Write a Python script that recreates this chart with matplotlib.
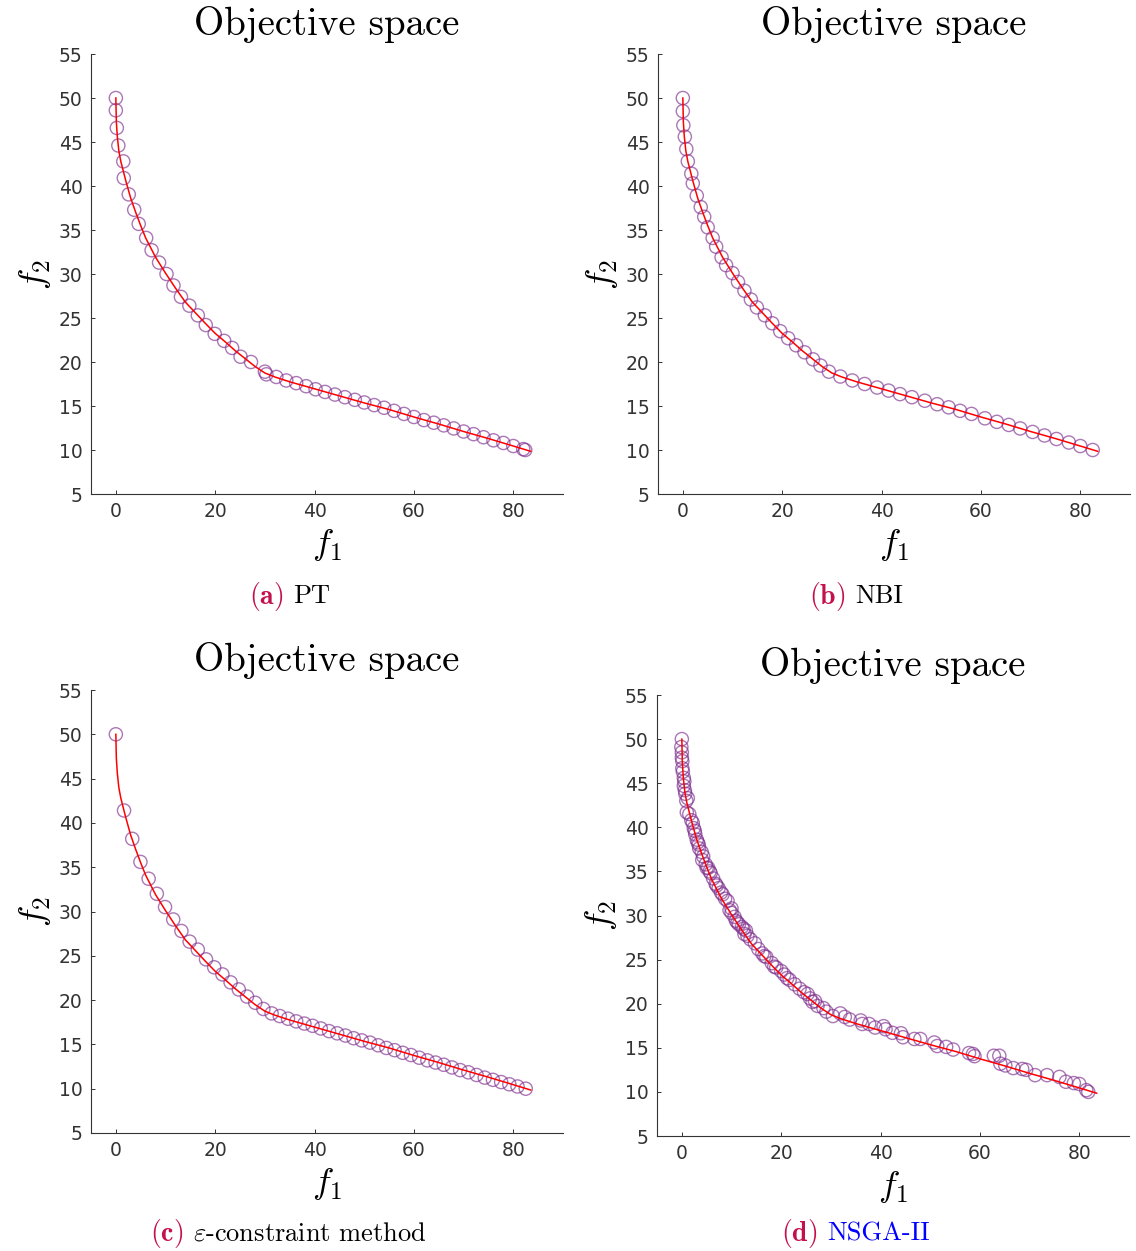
import matplotlib.pyplot as plt

plt.rcParams['mathtext.fontset'] = 'cm'

# Pareto front (reference curve)
front_f1 = [0, 0.1, 0.3, 0.6, 1.0, 1.5, 2.0, 3.0, 4.0, 5.0, 6.0, 8.0, 10.0, 12.0, 14.0,
            16.0, 18.0, 20.0, 22.0, 24.0, 26.0, 28.0, 30.0, 32.0, 35.0, 40.0, 45.0, 50.0,
            55.0, 60.0, 65.0, 70.0, 75.0, 80.0, 83.5]
front_f2 = [50.0, 47.3, 45.6, 44.0, 42.8, 41.7, 40.6, 38.6, 37.0, 35.5, 34.1, 31.9, 30.1,
            28.4, 26.8, 25.6, 24.4, 23.25, 22.3, 21.3, 20.4, 19.5, 18.75, 18.3, 17.75,
            16.95, 16.15, 15.35, 14.6, 13.75, 12.95, 12.1, 11.3, 10.45, 9.85]

# (a) PT
pt_f1 = [0, 0, 0.2, 0.5, 1.5, 1.6, 2.6, 3.7, 4.6, 6.1, 7.2, 8.7, 10.2, 11.6, 13.1, 14.8,
         16.5, 18.1, 19.9, 21.8, 23.4, 25.1, 27.2, 30.0, 30.3, 32.3, 34.3, 36.3, 38.3,
         40.2, 42.1, 44.1, 46.1, 48.1, 50.0, 52.0, 54.0, 56.0, 58.0, 60.0, 62.0, 64.0,
         66.0, 68.0, 70.0, 72.0, 74.0, 76.0, 78.0, 80.0, 82.0, 82.4]
pt_f2 = [50.0, 48.6, 46.6, 44.6, 42.8, 40.9, 39.05, 37.3, 35.7, 34.1, 32.7, 31.3, 30.0,
         28.7, 27.4, 26.4, 25.3, 24.2, 23.2, 22.4, 21.6, 20.6, 20.0, 18.9, 18.6, 18.3,
         17.9, 17.6, 17.25, 16.9, 16.6, 16.3, 16.0, 15.7, 15.4, 15.1, 14.8, 14.45, 14.1,
         13.75, 13.4, 13.1, 12.8, 12.45, 12.1, 11.8, 11.45, 11.1, 10.8, 10.45, 10.1, 10.0]

# (b) NBI
nbi_f1 = [0, 0, 0.1, 0.4, 0.7, 1.0, 1.7, 2.0, 2.8, 3.6, 4.3, 5.0, 6.0, 6.7, 7.8, 8.7, 10.0,
          11.1, 12.4, 13.7, 14.9, 16.5, 18.0, 19.6, 21.2, 22.8, 24.5, 26.2, 27.7, 29.4,
          31.7, 34.1, 36.6, 39.1, 41.4, 43.7, 46.1, 48.7, 51.2, 53.5, 55.8, 58.1, 60.8,
          63.2, 65.6, 67.9, 70.4, 72.8, 75.2, 77.7, 80.0, 82.5]
nbi_f2 = [50.0, 48.5, 46.9, 45.6, 44.2, 42.8, 41.4, 40.3, 38.9, 37.6, 36.5, 35.3, 34.1,
          33.1, 31.9, 31.0, 30.1, 29.1, 28.1, 27.1, 26.2, 25.3, 24.4, 23.5, 22.7, 21.9,
          21.1, 20.3, 19.6, 18.9, 18.35, 17.9, 17.5, 17.1, 16.75, 16.35, 16.0, 15.6,
          15.2, 14.85, 14.45, 14.1, 13.6, 13.2, 12.85, 12.45, 12.05, 11.65, 11.25,
          10.85, 10.45, 10.0]

# (c) epsilon-constraint
eps_f1 = [0, 1.65, 3.3, 4.95, 6.6, 8.25, 9.9, 11.55, 13.2, 14.85, 16.5, 18.15, 19.8, 21.45,
          23.1, 24.75, 26.4, 28.05, 29.7, 31.35, 33.0, 34.65, 36.3, 37.95, 39.6, 41.25,
          42.9, 44.55, 46.2, 47.85, 49.5, 51.15, 52.8, 54.45, 56.1, 57.75, 59.4, 61.05,
          62.7, 64.35, 66.0, 67.65, 69.3, 70.95, 72.6, 74.25, 75.9, 77.55, 79.2, 80.85, 82.5]
eps_f2 = [50.0, 41.4, 38.2, 35.6, 33.7, 32.0, 30.5, 29.1, 27.8, 26.6, 25.7, 24.6, 23.7,
          22.9, 22.0, 21.2, 20.4, 19.7, 19.0, 18.5, 18.2, 17.9, 17.6, 17.35, 17.1, 16.8,
          16.5, 16.25, 16.0, 15.7, 15.45, 15.2, 14.9, 14.6, 14.35, 14.05, 13.8, 13.5,
          13.2, 12.95, 12.7, 12.4, 12.1, 11.85, 11.55, 11.25, 11.0, 10.75, 10.5, 10.25, 10.0]

# (d) NSGA-II
ga_f1 = [0, -0.1, 0, 0, 0.1, 0.1, 0.4, 0.5, 0.4, 0.7, 1.2, 0.9, 1.0, 1.9, 2.2, 2.6, 2.7,
         3.0, 3.4, 3.5, 4.0, 4.3, 4.1, 4.8, 5.3, 5.8, 6.3, 6.8, 7.4, 8.2, 8.7, 9.2, 10.0,
         10.0, 10.6, 10.9, 11.5, 12.4, 12.9, 12.6, 13.2, 14.7, 15.4, 16.2, 17.0, 18.1,
         19.0, 20.0, 20.6, 21.7, 22.7, 23.7, 25.3, 25.8, 26.3, 27.3, 28.5, 29.1, 30.4,
         31.9, 32.8, 33.8, 36.0, 36.3, 37.7, 38.9, 40.6, 41.0, 42.4, 44.1, 44.5, 46.8,
         48.0, 50.8, 51.4, 53.2, 54.6, 57.8, 58.6, 58.9, 62.8, 63.9, 64.1, 65.1, 66.7,
         68.5, 69.3, 71.1, 73.5, 76.0, 77.3, 78.9, 80.0, 81.4, 81.8,
         0.2, 0.6, 1.5, 2.4, 3.2, 5.0, 5.6, 7.0, 7.9, 9.6, 11.2, 12.1, 13.8, 16.6, 18.6,
         21.2, 24.6, 26.8]
ga_f2 = [50.0, 49.1, 48.5, 47.9, 47.5, 46.7, 45.6, 45.2, 44.7, 43.8, 43.3, 43.0, 41.7,
         40.8, 40.5, 39.6, 39.2, 38.6, 38.05, 37.6, 37.2, 36.7, 36.3, 35.8, 35.4, 34.8,
         34.2, 33.6, 33.1, 32.4, 31.9, 31.65, 30.8, 30.3, 29.85, 29.4, 29.0, 28.5, 28.3,
         27.9, 27.7, 26.85, 26.2, 25.7, 25.3, 24.6, 24.1, 23.7, 23.3, 22.7, 22.2, 21.7,
         21.1, 20.6, 20.2, 19.75, 19.5, 19.1, 18.6, 18.9, 18.5, 18.2, 18.1, 17.7, 17.7,
         17.3, 17.45, 17.1, 16.7, 16.65, 16.2, 16.0, 16.0, 15.6, 15.2, 15.1, 14.8, 14.4,
         14.3, 14.05, 14.1, 14.1, 13.2, 13.0, 12.7, 12.6, 12.5, 11.9, 11.9, 11.7, 11.15,
         11.0, 10.9, 10.2, 10.0,
         46.3, 44.2, 41.5, 39.9, 38.3, 35.4, 35.0, 33.4, 32.6, 30.6, 29.2, 28.7, 27.3,
         25.4, 24.2, 22.9, 21.3, 20.3]

captions = [('(a)', 'PT', 'black'), ('(b)', 'NBI', 'black'),
            ('(c)', r'$\varepsilon$-constraint method', 'black'), ('(d)', 'NSGA-II', 'blue')]
panels = [(pt_f1, pt_f2), (nbi_f1, nbi_f2), (eps_f1, eps_f2), (ga_f1, ga_f2)]

W, H = 1136, 1251
fig = plt.figure(figsize=(W / 100, H / 100), dpi=100)

# axes boxes in pixels: left, top, right, bottom
boxes = [(91, 54, 563, 494), (658, 54, 1130, 494),
         (91, 690, 563, 1133), (657, 695, 1129, 1136)]
# caption anchors: x where the tag ends, x where the text starts, y centre
cap_pos = [(283, 293, 596), (845, 855, 596), (183, 193, 1234), (817, 827, 1234)]

purple = '#7E2F8E'
crimson = '#C4104C'
grey = '#333333'

for i, ((f1, f2), (l, t, r, b)) in enumerate(zip(panels, boxes)):
    ax = fig.add_axes([l / W, 1 - b / H, (r - l) / W, (b - t) / H])
    ax.scatter(f1, f2, s=90, facecolors='none', edgecolors=purple, linewidths=1.0,
               alpha=0.65, zorder=2)
    ax.plot(front_f1, front_f2, color='red', lw=1.1, zorder=3)
    ax.set_xlim(-5, 90)
    ax.set_ylim(5, 55)
    ax.set_xticks([0, 20, 40, 60, 80])
    ax.set_yticks(range(5, 56, 5))
    for side in ('top', 'right'):
        ax.spines[side].set_visible(False)
    for side in ('left', 'bottom'):
        ax.spines[side].set_color(grey)
        ax.spines[side].set_linewidth(0.8)
    ax.tick_params(direction='in', length=3, width=0.7, colors=grey, labelsize=13.5,
                   pad=6)
    ax.set_title('Objective space', family='cmr10', fontsize=28, pad=14)
    ax.set_xlabel(r'$f_1$', fontsize=26, labelpad=4)
    ax.set_ylabel(r'$f_2$', fontsize=26, labelpad=4)

    tag, text, col = captions[i]
    xe, xs, yc = cap_pos[i]
    fig.text(xe / W, 1 - yc / H, r'$\mathbf{' + tag + '}$', color=crimson, fontsize=20,
             ha='right', va='center')
    fig.text(xs / W, 1 - yc / H, text, color=col, family='cmr10', fontsize=19,
             ha='left', va='center')

fig.savefig('out.png', dpi=100)
